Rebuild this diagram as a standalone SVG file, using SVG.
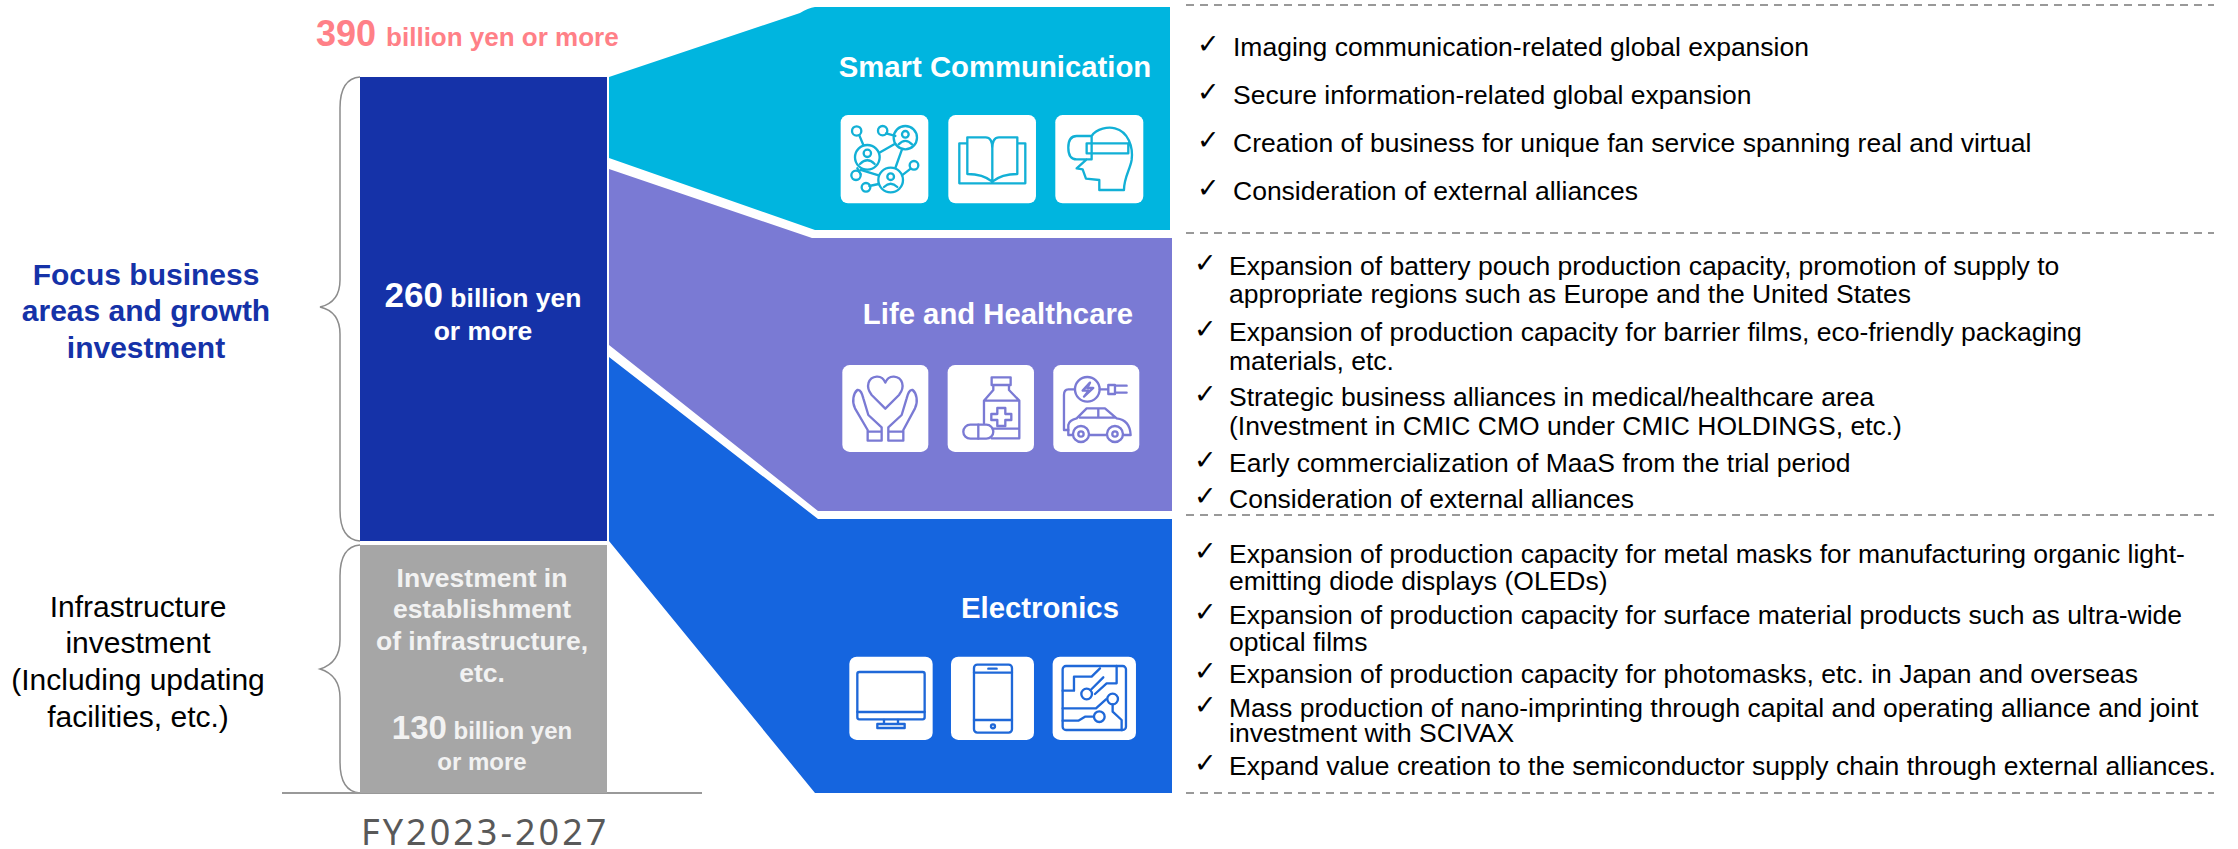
<svg xmlns="http://www.w3.org/2000/svg" width="2238" height="849" viewBox="0 0 2238 849">
<style>
text{font-family:"Liberation Sans",Arial,sans-serif}
.b{font-weight:bold}
.m{text-anchor:middle}
.w{fill:#fff}
.g{fill:#f2f2f2}
.h{font-size:29.3px}
.l1{font-size:26.5px;fill:#000}
.l2{font-size:26.5px;fill:#000}
.c{font-family:"DejaVu Sans",sans-serif;font-size:27px;fill:#000}
.big{font-size:35px}
.small{font-size:26.5px}
.big2{font-size:33px}
.small2{font-size:24px}
.ico{fill:#fff}
.s{fill:none;stroke-width:7;stroke-linejoin:round;stroke-linecap:round}
.s1{stroke:#12b0d6}
.s2{stroke:#7a7ad4}
.s3{stroke:#1f68d8}
.dash{stroke:#999;stroke-width:2;stroke-dasharray:8 6;fill:none}
.brace{fill:none;stroke:#8c8c8c;stroke-width:1.5}
</style>
<g id="connectors">
<path class="brace" d="M360 77C347 78 340 88 340 108V280C340 296 333 304 320 307C333 310 340 318 340 334V510C340 530 347 540 360 541"/>
<path class="brace" d="M360 545C347 546 340 556 340 576V640C340 656 333 665 320 669C333 673 340 682 340 698V762C340 782 347 792 360 793"/>
<line x1="282" y1="793" x2="702" y2="793" stroke="#999" stroke-width="2"/>
<line class="dash" x1="1186" y1="5" x2="2214" y2="5"/>
<line class="dash" x1="1186" y1="233" x2="2214" y2="233"/>
<line class="dash" x1="1186" y1="515" x2="2214" y2="515"/>
<line class="dash" x1="1186" y1="793" x2="2214" y2="793"/>
</g>
<g id="total"><text x="316" y="46" class="b" fill="#ff8087" style="font-size:36px">390 <tspan style="font-size:26px">billion yen or more</tspan></text></g>
<g id="focus-label"><text class="b m" fill="#1532a8" font-size="30"><tspan x="146" y="285">Focus business</tspan><tspan x="146" y="321">areas and growth</tspan><tspan x="146" y="358">investment</tspan></text></g>
<g id="infra-label"><text class="m" fill="#000" font-size="30"><tspan x="138" y="617">Infrastructure</tspan><tspan x="138" y="653">investment</tspan><tspan x="138" y="690">(Including updating</tspan><tspan x="138" y="727">facilities, etc.)</tspan></text></g>
<g id="bar-growth"><rect x="360" y="77" width="247" height="464" fill="#1532a8"/>
<text class="b m w" x="483" y="307"><tspan class="big">260</tspan><tspan class="small"> billion yen</tspan></text><text class="b m w small" x="483" y="340">or more</text></g>
<g id="bar-infra"><rect x="360" y="545" width="247" height="248" fill="#a6a6a6"/>
<text class="b m g small"><tspan x="482" y="587">Investment in</tspan><tspan x="482" y="618">establishment</tspan><tspan x="482" y="650">of infrastructure,</tspan><tspan x="482" y="682">etc.</tspan></text>
<text class="b m g" x="482" y="739"><tspan class="big2">130</tspan><tspan class="small2"> billion yen</tspan></text><text class="b m g small2" x="482" y="770">or more</text></g>
<g id="fy"><text x="361" y="845" font-size="36" fill="#595959" style="font-family:'Noto Sans',sans-serif;letter-spacing:3px">FY2023-2027</text></g>

<g id="smart-communication">
<path d="M609 77L800 13Q808 8 815 7H1170V230H815L609 158Z" fill="#00b5df"/>
<text class="b m w h" x="995" y="77">Smart Communication</text>
<g transform="translate(820 100) scale(.3333)">
<rect class="ico" x="62" y="45" width="263" height="265" rx="22"/><rect class="ico" x="385" y="45" width="263" height="265" rx="22"/><rect class="ico" x="706" y="45" width="264" height="265" rx="22"/>
<g class="s s1">
<circle cx="110" cy="93" r="14"/><circle cx="188" cy="92" r="14"/><circle cx="282" cy="196" r="13"/><circle cx="108" cy="226" r="14"/><circle cx="138" cy="262" r="13"/>
<circle cx="256" cy="113" r="35"/><circle cx="142" cy="172" r="37"/><circle cx="212" cy="240" r="37"/>
<circle cx="256" cy="103" r="10"/><path d="M236 133Q256 112 276 133"/><circle cx="142" cy="160" r="11"/><path d="M120 192Q142 170 164 192"/><circle cx="212" cy="230" r="10"/><path d="M192 261Q212 242 232 261"/>
<path d="M118 106L130 135M198 100L226 108M178 158L224 132M246 148L226 204M246 226L272 206M122 210L176 226M148 258L176 252M122 222L112 205"/>
<path d="M517 245Q489 222 442 222V112H497Q517 112 517 145ZM517 245Q545 222 592 222V112H537Q517 112 517 145ZM442 130H418V250H616V130H592"/>
<path d="M770 108H815V178H770Q745 178 745 143Q745 108 770 108ZM800 130H925V160H800ZM815 108C830 85 865 80 885 85C925 95 940 140 935 180C930 210 912 232 912 270H838V240L798 236L788 208L770 205L800 178"/>
</g></g>
</g>

<g id="life-healthcare">
<path d="M609 169L812 238H1172V511H818L609 345Z" fill="#7a7ad4"/>
<text class="b m w h" x="998" y="324">Life and Healthcare</text>
<g transform="translate(800 340) scale(.3333)">
<rect class="ico" x="127" y="75" width="258" height="261" rx="22"/><rect class="ico" x="443" y="75" width="259" height="261" rx="22"/><rect class="ico" x="760" y="75" width="258" height="261" rx="22"/>
<g class="s s2">
<path d="M256 206L215 165C195 140 205 112 230 110C245 109 252 118 256 128C260 118 267 109 282 110C307 112 317 140 297 165Z"/>
<path d="M203 300V270L165 205C155 185 160 160 172 150C182 148 186 160 190 175L205 225L245 262V300M310 300V270L345 205C355 185 350 160 338 150C328 148 324 160 320 175L305 225L265 262V300M203 275H245V302H203ZM265 275H310V302H265Z"/>
<path d="M575 112H632V135H575ZM580 135V150L552 182V250M627 135V150L658 182V295H575M552 182H658M578 266H658"/>
<path d="M592 222V204H616V222H634V240H616V258H592V240H574V222Z"/>
<rect x="490" y="254" width="90" height="42" rx="21"/><path d="M535 254V296"/>
<circle cx="862" cy="148" r="37"/><path d="M870 128L848 152H866L852 170L880 144H862Z"/><path d="M899 148H925M925 135H945V162H925ZM945 137H980M945 158H980"/>
<path d="M825 148H805Q792 148 792 165V270H805"/>
<path d="M805 285V255Q808 240 830 235L860 205H915L950 235Q990 240 992 285H970M920 285H868M818 285H805M840 233H945M895 205V233"/>
<circle cx="843" cy="282" r="24"/><circle cx="945" cy="282" r="24"/><circle cx="843" cy="282" r="8"/><circle cx="945" cy="282" r="8"/>
</g></g>
</g>

<g id="electronics">
<path d="M609 357L818 519H1172V793H815L609 541Z" fill="#1565df"/>
<text class="b m w h" x="1040" y="618">Electronics</text>
<g transform="translate(820 640) scale(.3333)">
<rect class="ico" x="88" y="50" width="250" height="250" rx="22"/><rect class="ico" x="393" y="50" width="249" height="250" rx="22"/><rect class="ico" x="698" y="50" width="250" height="250" rx="22"/>
<g class="s s3">
<rect x="112" y="96" width="202" height="142" rx="6"/><path d="M112 216H314M192 240V252H234V240M172 252H254V264H172Z"/>
<rect x="462" y="74" width="114" height="204" rx="10"/><path d="M462 98H576M462 240H576M505 86H530"/><circle cx="519" cy="259" r="6"/>
<rect x="728" y="78" width="190" height="192" rx="10"/>
<path d="M728 152H762V110H815L840 85M812 150L850 112M825 162L860 130H890V78"/><circle cx="800" cy="162" r="16"/><circle cx="878" cy="177" r="16"/><circle cx="838" cy="230" r="16"/><path d="M728 205H828L858 178M820 230H795L775 242H728M878 193V215L905 240V270"/>
</g></g>
</g>

<g id="list-smart">
<text class="c" x="1197" y="53">✓</text><text class="l1" x="1233" y="56">Imaging communication-related global expansion</text>
<text class="c" x="1197" y="101">✓</text><text class="l1" x="1233" y="104">Secure information-related global expansion</text>
<text class="c" x="1197" y="149">✓</text><text class="l1" x="1233" y="152">Creation of business for unique fan service spanning real and virtual</text>
<text class="c" x="1197" y="197">✓</text><text class="l1" x="1233" y="200">Consideration of external alliances</text>
</g>
<g id="list-life">
<text class="c" x="1194" y="272">✓</text><text class="l2" x="1229" y="275">Expansion of battery pouch production capacity, promotion of supply to</text><text class="l2" x="1229" y="303">appropriate regions such as Europe and the United States</text>
<text class="c" x="1194" y="338">✓</text><text class="l2" x="1229" y="341">Expansion of production capacity for barrier films, eco-friendly packaging</text><text class="l2" x="1229" y="370">materials, etc.</text>
<text class="c" x="1194" y="403">✓</text><text class="l2" x="1229" y="406">Strategic business alliances in medical/healthcare area</text><text class="l2" x="1229" y="435">(Investment in CMIC CMO under CMIC HOLDINGS, etc.)</text>
<text class="c" x="1194" y="469">✓</text><text class="l2" x="1229" y="472">Early commercialization of MaaS from the trial period</text>
<text class="c" x="1194" y="505">✓</text><text class="l2" x="1229" y="508">Consideration of external alliances</text>
</g>
<g id="list-electronics">
<text class="c" x="1194" y="560">✓</text><text class="l2" x="1229" y="563">Expansion of production capacity for metal masks for manufacturing organic light-</text><text class="l2" x="1229" y="590">emitting diode displays (OLEDs)</text>
<text class="c" x="1194" y="621">✓</text><text class="l2" x="1229" y="624">Expansion of production capacity for surface material products such as ultra-wide</text><text class="l2" x="1229" y="651">optical films</text>
<text class="c" x="1194" y="680">✓</text><text class="l2" x="1229" y="683">Expansion of production capacity for photomasks, etc. in Japan and overseas</text>
<text class="c" x="1194" y="714">✓</text><text class="l2" x="1229" y="717">Mass production of nano-imprinting through capital and operating alliance and joint</text><text class="l2" x="1229" y="742">investment with SCIVAX</text>
<text class="c" x="1194" y="772">✓</text><text class="l2" x="1229" y="775">Expand value creation to the semiconductor supply chain through external alliances.</text>
</g>
</svg>
